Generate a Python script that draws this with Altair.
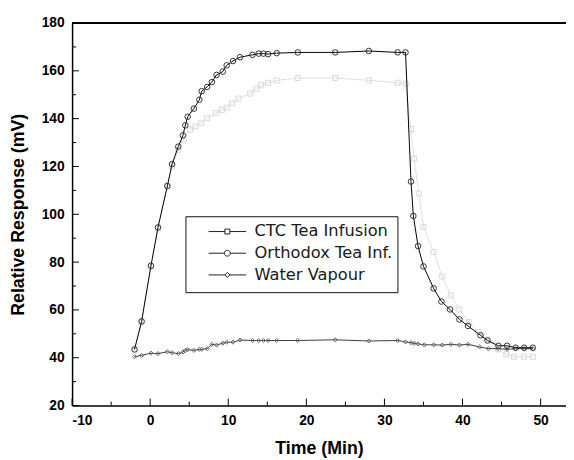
import altair as alt
import pandas as pd

series_names = ["CTC Tea Infusion", "Orthodox Tea Inf.", "Water Vapour"]

ctc_x = [-2, -1.1, 0.1, 1, 2.2, 2.8, 3.6, 4.3, 5.1, 5.8, 6.5, 7.3, 8.4, 9.2, 9.8, 10.5, 11.3, 12.8,
         13.6, 14.2, 15.1, 16.2, 18.9, 23.7, 28, 31.7, 32.7, 33.4, 33.8, 34.4, 35, 36.3, 37.4, 38.5,
         39.6, 40.8, 42, 43.3, 44.5, 45.6, 46.6, 47.9, 49]
ctc_y = [43, 55, 78, 94, 112, 120, 127, 131, 135.4, 136.8, 138.1, 140.2, 142.3, 143.7, 144.6, 146.4,
         148.4, 150.5, 152.5, 154, 155, 156, 157, 157, 156, 155, 154.6, 135.7, 123.3, 108.7, 94.7,
         84.2, 74, 66.1, 60.2, 54.9, 50.8, 47.6, 43.5, 41.4, 40.4, 40.4, 40.4]

orth_x = [-2, -1.1, 0.1, 1, 2.2, 2.8, 3.6, 4.2, 4.5, 4.8, 5.6, 6.3, 6.6, 7.3, 7.9, 8.5, 9.3, 9.8,
          10.6, 11.5, 13.1, 13.9, 14.5, 15.1, 16.2, 18.9, 23.7, 28, 31.7, 32.7, 33.4, 33.7, 34.3,
          35, 36.3, 37.3, 38.4, 39.6, 40.7, 42.3, 43.2, 44.6, 45.7, 46.8, 47.9, 49]
orth_y = [43.5, 55.2, 78.5, 94.5, 111.8, 121, 128.3, 133, 137.2, 140.8, 144.2, 147.9, 151.5, 153.3,
          155.3, 158.3, 159.7, 162.3, 164.1, 165.7, 166.7, 167.2, 167.2, 167, 167.4, 167.7, 167.7,
          168.3, 167.7, 167.7, 113.7, 99.3, 86.7, 78.2, 69, 63.5, 60.2, 56, 53.3, 49.4, 47.2, 45,
          45, 44.2, 44.2, 44.2]

water_x = [-2, -1.1, 0.1, 1, 2.2, 2.8, 3.6, 4.2, 4.5, 4.8, 5.6, 6.3, 6.6, 7.3, 7.9, 8.5, 9.3, 9.8,
           10.6, 11.5, 13.1, 13.9, 14.5, 15.1, 16.2, 18.9, 23.7, 28, 31.7, 32.7, 33.4, 33.8, 34.3,
           35.1, 36.3, 37.4, 38.5, 39.6, 40.7, 42.2, 43.3, 44.5, 45.7, 46.8, 47.9, 49]
water_y = [40.4, 41, 41.9, 41.7, 42.5, 42.1, 41.7, 42.4, 43.1, 43.4, 43.1, 43.5, 43.5, 43.8, 45.6,
           45.3, 46.1, 46.5, 46.5, 47.4, 47.2, 47.2, 47.2, 47.2, 47.2, 47.2, 47.5, 47, 47.2, 46.6,
           46.3, 46, 45.8, 45.4, 45.4, 45.3, 45.6, 45.3, 45.6, 44.5, 43.8, 43.8, 43.5, 43.8, 43.8,
           43.8]

x_major = [-10, 0, 10, 20, 30, 40, 50]
x_minor = [-5, 5, 15, 25, 35, 45]
y_major = [20, 40, 60, 80, 100, 120, 140, 160, 180]
y_minor = [30, 50, 70, 90, 110, 130, 150, 170]

W, H = 501, 388
FONT = "Liberation Sans"

df = pd.concat([
    pd.DataFrame({"x": ctc_x, "y": ctc_y, "series": series_names[0]}),
    pd.DataFrame({"x": orth_x, "y": orth_y, "series": series_names[1]}),
    pd.DataFrame({"x": water_x, "y": water_y, "series": series_names[2]}),
], ignore_index=True)

xs = alt.Scale(domain=[-10, 53.25], nice=False, zero=False)
ys = alt.Scale(domain=[20, 180], nice=False, zero=False)

x_axis = alt.Axis(values=x_major, ticks=False, tickSize=0, grid=False,
                  labelExpr="datum.value < 0 ? '-' + abs(datum.value) : '' + datum.value",
                  labelPadding=8, titlePadding=13)
y_axis = alt.Axis(values=y_major, format="d", ticks=False, tickSize=0, grid=False,
                  labelPadding=8, titlePadding=14)
X = alt.X("x:Q", scale=xs, title="Time (Min)", axis=x_axis)
Y = alt.Y("y:Q", scale=ys, title="Relative Response (mV)", axis=y_axis)

base = alt.Chart(df)


def series_layer(name, line_color, pt_color, shape, size):
    sub = base.transform_filter(alt.datum.series == name)
    line = sub.mark_line(color=line_color, strokeWidth=1).encode(x=X, y=Y, order="x:Q")
    pts = sub.mark_point(shape=shape, filled=False, size=size, color=pt_color,
                         strokeWidth=1, opacity=1).encode(x=X, y=Y)
    return [line, pts]


layers = []
layers += series_layer(series_names[0], "#e0e0e0", "#d8d8d8", "square", 26)
layers += series_layer(series_names[2], "#3a3a3a", "#6a6a6a", "diamond", 18)
layers += series_layer(series_names[1], "#000000", "#333333", "circle", 32)

# legend symbols: a line with the marker in the middle (path units: size 400 -> 10px per unit)
sq = "M-1.9,0H-0.25M0.25,0H1.9M-0.25,-0.25H0.25V0.25H-0.25Z"
ci = "M-1.9,0H-0.3M0.3,0H1.9M0.3,0A0.3,0.3,0,1,1,-0.3,0A0.3,0.3,0,1,1,0.3,0Z"
di = "M-1.9,0H-0.25M0.25,0H1.9M-0.25,0L0,-0.25L0.25,0L0,0.25Z"

legend_layer = base.mark_point(opacity=0, filled=False).encode(
    x=X, y=Y,
    shape=alt.Shape("series:N", scale=alt.Scale(domain=series_names, range=[sq, ci, di]),
                    legend=alt.Legend(title=" ", titleOrient="bottom", titleFontSize=3,
                                      titlePadding=1,
                                      orient="none", legendX=115, legendY=196,
                                      padding=5, fillColor="white", strokeColor="#111",
                                      symbolStrokeColor="#222", symbolStrokeWidth=1,
                                      symbolSize=400, symbolOpacity=1, symbolOffset=27,
                                      labelFont="DejaVu Sans", labelFontSize=16.5,
                                      labelColor="#1a1a1a",
                                      labelOffset=17, rowPadding=3, labelLimit=300)),
)

tick_xmaj = alt.Chart(pd.DataFrame({"x": x_major})).mark_rule(color="black", strokeWidth=1).encode(
    x=X, y=alt.value(H), y2=alt.value(H - 7))
tick_xmin = alt.Chart(pd.DataFrame({"x": x_minor})).mark_rule(color="black", strokeWidth=1).encode(
    x=X, y=alt.value(H), y2=alt.value(H - 4))
tick_ymaj = alt.Chart(pd.DataFrame({"y": y_major})).mark_rule(color="black", strokeWidth=1).encode(
    y=Y, x=alt.value(0), x2=alt.value(7))
tick_ymin = alt.Chart(pd.DataFrame({"y": y_minor})).mark_rule(color="black", strokeWidth=1).encode(
    y=Y, x=alt.value(0), x2=alt.value(4))
top_border = alt.Chart(alt.Data(values=[{"a": 1}])).mark_rule(color="black", strokeWidth=2).encode(
    y=alt.value(0), x=alt.value(0), x2=alt.value(W))

chart = alt.layer(*layers, legend_layer, tick_xmaj, tick_xmin, tick_ymaj, tick_ymin, top_border).properties(
    width=W, height=H,
    padding={"left": 65, "top": 12, "right": 0, "bottom": 52},
    autosize=alt.AutoSizeParams(type="none"),
).configure_view(stroke=None).configure_axis(
    domainColor="black", domainWidth=1.5,
    labelFont=FONT, labelFontSize=14, labelFontWeight="bold", labelColor="black",
    titleFont=FONT, titleFontSize=18, titleFontWeight="bold", titleColor="black",
)

chart.save("out.html", embed_options={"renderer": "svg", "actions": False})
